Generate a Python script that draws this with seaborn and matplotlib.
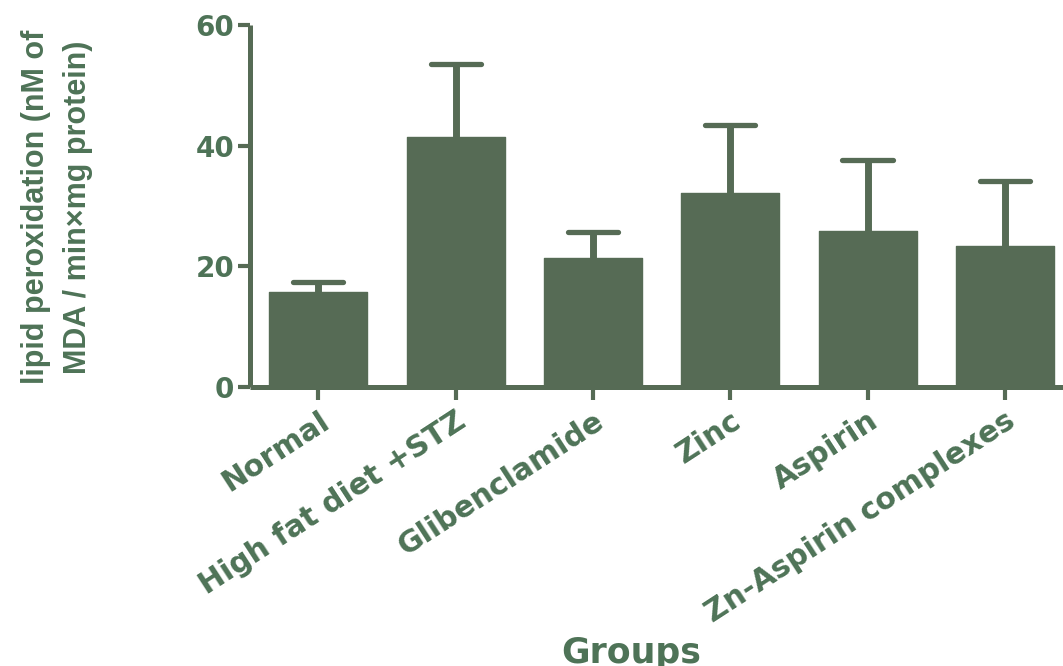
import matplotlib
matplotlib.use("Agg")
import matplotlib.pyplot as plt
from matplotlib import font_manager as fm
import seaborn as sns
import pandas as pd
import numpy as np

groups = ["Normal", "High fat diet +STZ", "Glibenclamide", "Zinc", "Aspirin",
          "Zn-Aspirin complexes"]
means = [15.7, 41.5, 21.3, 32.1, 25.9, 23.3]
upper_err = [1.7, 12.1, 4.3, 11.3, 11.7, 10.8]
yticks = [0, 20, 40, 60]

bar_color = "#566b55"
text_color = "#4e7357"

sns.set_theme(style="white")
names = {f.name for f in fm.fontManager.ttflist}
narrow = "Liberation Sans Narrow" if "Liberation Sans Narrow" in names else "Liberation Sans"
plt.rcParams["font.family"] = ["DejaVu Sans"]

df = pd.DataFrame({"group": groups, "mean": means})

fig = plt.figure(figsize=(10.63, 6.66), dpi=100)
W, H = 1063, 666
x0, x1 = 249.7, 1073.5
y0, y1 = 386.7, 25.0
ax = fig.add_axes([x0 / W, (H - y0) / H, (x1 - x0) / W, (y0 - y1) / H])

sns.barplot(data=df, x="group", y="mean", color=bar_color, saturation=1,
            width=0.714, errorbar=None, ax=ax, zorder=3)
for p in ax.patches:
    p.set_edgecolor(bar_color)
    p.set_linewidth(1.0)
    p.set_joinstyle("round")

xs = np.arange(len(groups))
tops = np.array(means) + np.array(upper_err)
ax.vlines(xs, means, tops, color=bar_color, linewidth=5.0, zorder=2,
          capstyle="butt")
ax.hlines(tops, xs - 0.183, xs + 0.183, color=bar_color, linewidth=3.8,
          zorder=2, capstyle="round")

ax.set_xlim(-0.5, 5.5)
ax.set_ylim(0, 60)
ax.set_yticks(yticks)
ax.set_yticklabels([str(t) for t in yticks], fontsize=20, fontweight="bold",
                   color=text_color)
ax.set_xticks(xs)
ax.set_xticklabels(groups, fontsize=21.5, fontweight="bold", color=text_color,
                   rotation=33, ha="right", rotation_mode="anchor")
ax.tick_params(axis="both", direction="out", length=9, width=3,
               color=bar_color, left=True, bottom=True)
ax.tick_params(axis="y", pad=2)
ax.tick_params(axis="x", pad=5)

for side in ["top", "right"]:
    ax.spines[side].set_visible(False)
for side in ["left", "bottom"]:
    ax.spines[side].set_linewidth(3.6)
    ax.spines[side].set_color(bar_color)
    ax.spines[side].set_capstyle("butt")

ax.set_xlabel("")
ax.set_ylabel("")

fig.text(631 / W, (H - 663) / H, "Groups", fontsize=25, fontweight="bold",
         color=text_color, ha="center", va="baseline")
fig.text(57 / W, (H - 207) / H,
         "lipid peroxidation (nM of\nMDA / min\u00d7mg protein)",
         family=[narrow, "DejaVu Sans"], fontsize=22, fontweight="bold",
         color=text_color, rotation=90, ha="center", va="center",
         multialignment="center", linespacing=1.55)

fig.savefig("out.png", dpi=100)
